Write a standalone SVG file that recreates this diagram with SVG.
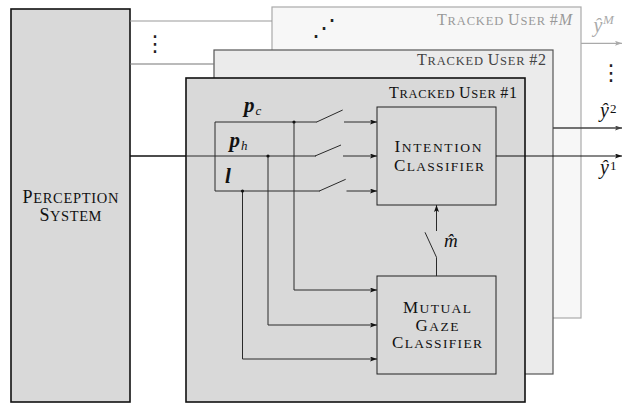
<svg xmlns="http://www.w3.org/2000/svg" width="627" height="405" viewBox="0 0 627 405">
  <style>
    .sc { font-family: "Liberation Serif", "Times New Roman", serif; }
    .math { font-family: "Liberation Serif", "Times New Roman", serif; font-style: italic; }
    .bm { font-family: "Liberation Serif", "Times New Roman", serif; font-style: italic; font-weight: bold; }
    .dots { font-family: "DejaVu Sans", sans-serif; fill: #222; text-anchor: middle; }
    .wire { fill: none; stroke: #2a2a2a; stroke-width: 1; }
    .dot { fill: #111; }
  </style>
  <defs>
    <marker id="ah-k" viewBox="0 0 7 5" refX="7" refY="2.5" markerWidth="7" markerHeight="5" markerUnits="userSpaceOnUse" orient="auto">
      <path d="M0,0 L7,2.5 L0,5 L1.5,2.5 z" fill="#111"/>
    </marker>
    <marker id="ah-d" viewBox="0 0 7 5" refX="7" refY="2.5" markerWidth="7" markerHeight="5" markerUnits="userSpaceOnUse" orient="auto">
      <path d="M0,0 L7,2.5 L0,5 L1.5,2.5 z" fill="#444"/>
    </marker>
    <marker id="ah-l" viewBox="0 0 7 5" refX="7" refY="2.5" markerWidth="7" markerHeight="5" markerUnits="userSpaceOnUse" orient="auto">
      <path d="M0,0 L7,2.5 L0,5 L1.5,2.5 z" fill="#aaa"/>
    </marker>
  </defs>

  <!-- stacked per-user panels, back to front -->
  <g id="user-m">
    <rect x="272" y="7" width="309" height="311" fill="#f7f7f7" stroke="#aaa" stroke-width="1.2"/>
    <text class="sc" x="572" y="25" text-anchor="end" fill="#999" textLength="135" lengthAdjust="spacing"><tspan font-size="16">T</tspan><tspan font-size="12.5">RACKED </tspan><tspan font-size="16">U</tspan><tspan font-size="12.5">SER </tspan><tspan font-size="16">#</tspan><tspan font-size="16" font-style="italic">M</tspan></text>
    <text class="dots" x="324" y="36" font-size="24">⋰</text>
  </g>

  <g id="user-2">
    <rect x="214" y="50" width="339" height="324" fill="#ebebeb" stroke="#555" stroke-width="1.2"/>
    <text class="sc" x="546" y="65" text-anchor="end" fill="#444" textLength="129" lengthAdjust="spacing"><tspan font-size="16">T</tspan><tspan font-size="12.5">RACKED </tspan><tspan font-size="16">U</tspan><tspan font-size="12.5">SER </tspan><tspan font-size="16">#2</tspan></text>
  </g>

  <g id="user-1">
    <rect x="186" y="78" width="339" height="324" fill="#d9d9d9" stroke="#111" stroke-width="1.6"/>
    <text class="sc" x="517" y="98" text-anchor="end" fill="#111" textLength="128" lengthAdjust="spacing"><tspan font-size="16">T</tspan><tspan font-size="12.5">RACKED </tspan><tspan font-size="16">U</tspan><tspan font-size="12.5">SER </tspan><tspan font-size="16">#1</tspan></text>
  </g>

  <g id="perception">
    <rect x="11" y="9" width="119" height="393" fill="#d9d9d9" stroke="#111" stroke-width="1.6"/>
    <text class="sc" x="70.5" y="203" text-anchor="middle" fill="#111" textLength="96" lengthAdjust="spacing"><tspan font-size="18">P</tspan><tspan font-size="14.5">ERCEPTION</tspan></text>
    <text class="sc" x="70.5" y="221" text-anchor="middle" fill="#111" textLength="62" lengthAdjust="spacing"><tspan font-size="18">S</tspan><tspan font-size="14.5">YSTEM</tspan></text>
  </g>

  <g id="intention-classifier">
    <rect x="377" y="107" width="119" height="98" fill="#d9d9d9" stroke="#222" stroke-width="1"/>
    <text class="sc" x="438" y="152" text-anchor="middle" fill="#111" textLength="87" lengthAdjust="spacing"><tspan font-size="17">I</tspan><tspan font-size="13.5">NTENTION</tspan></text>
    <text class="sc" x="439" y="171" text-anchor="middle" fill="#111" textLength="90" lengthAdjust="spacing"><tspan font-size="17">C</tspan><tspan font-size="13.5">LASSIFIER</tspan></text>
  </g>

  <g id="mutual-gaze-classifier">
    <rect x="377" y="276" width="119" height="98" fill="#d9d9d9" stroke="#222" stroke-width="1"/>
    <text class="sc" x="437" y="313" text-anchor="middle" fill="#111" textLength="68" lengthAdjust="spacing"><tspan font-size="17">M</tspan><tspan font-size="13.5">UTUAL</tspan></text>
    <text class="sc" x="437" y="331" text-anchor="middle" fill="#111" textLength="43" lengthAdjust="spacing"><tspan font-size="17">G</tspan><tspan font-size="13.5">AZE</tspan></text>
    <text class="sc" x="437" y="348" text-anchor="middle" fill="#111" textLength="90" lengthAdjust="spacing"><tspan font-size="17">C</tspan><tspan font-size="13.5">LASSIFIER</tspan></text>
  </g>

  <g id="connectors">
    <!-- perception outputs to each tracked user -->
    <line x1="130" y1="21" x2="272" y2="21" stroke="#999" stroke-width="1.2"/>
    <line x1="130" y1="64" x2="214" y2="64" stroke="#777" stroke-width="1.2"/>
    <line x1="130" y1="156" x2="186" y2="156" stroke="#111" stroke-width="1.6"/>
    <text class="dots" x="155" y="51" font-size="22">⋮</text>

    <!-- feature split: p_c, p_h, l -->
    <polyline class="wire" points="317,122 215,122 215,191 320,191"/>
    <line class="wire" x1="186" y1="156" x2="316" y2="156"/>

    <!-- switches in front of the intention classifier -->
    <line class="wire" x1="316.7" y1="122" x2="342.7" y2="110"/>
    <line class="wire" x1="315" y1="156" x2="341" y2="145"/>
    <line class="wire" x1="319.3" y1="191" x2="345.7" y2="179.3"/>
    <line class="wire" x1="344" y1="122" x2="377" y2="122" marker-end="url(#ah-k)"/>
    <line class="wire" x1="343" y1="156" x2="377" y2="156" marker-end="url(#ah-k)"/>
    <line class="wire" x1="346.5" y1="191" x2="377" y2="191" marker-end="url(#ah-k)"/>

    <!-- branches into the mutual gaze classifier -->
    <polyline class="wire" points="294,122 294,290 377,290" marker-end="url(#ah-k)"/>
    <polyline class="wire" points="268,156 268,325 377,325" marker-end="url(#ah-k)"/>
    <polyline class="wire" points="242.5,191 242.5,359 377,359" marker-end="url(#ah-k)"/>
    <circle class="dot" cx="294" cy="122" r="1.6"/>
    <circle class="dot" cx="268" cy="156" r="1.6"/>
    <circle class="dot" cx="242.5" cy="191" r="1.6"/>

    <!-- gated mutual gaze estimate -->
    <polyline class="wire" points="436.5,276 436.5,257.3 425,232.3"/>
    <line class="wire" x1="436.5" y1="231" x2="436.5" y2="205" marker-end="url(#ah-k)"/>

    <!-- per-user outputs -->
    <line x1="581" y1="43.3" x2="622" y2="43.3" stroke="#aaa" stroke-width="1.2" marker-end="url(#ah-l)"/>
    <line x1="553" y1="128" x2="622" y2="128" stroke="#444" stroke-width="1.4" marker-end="url(#ah-d)"/>
    <line x1="496" y1="156" x2="622" y2="156" stroke="#111" stroke-width="1.2" marker-end="url(#ah-k)"/>
    <text class="dots" x="611" y="80" font-size="22">⋮</text>
  </g>

  <g id="labels">
    <text class="bm" x="244" y="112" font-size="21" fill="#111">p</text>
    <text class="math" x="255.5" y="115" font-size="13" fill="#111">c</text>
    <text class="bm" x="229.5" y="147" font-size="21" fill="#111">p</text>
    <text class="math" x="241" y="150" font-size="13" fill="#111">h</text>
    <text class="bm" x="225" y="183" font-size="21" fill="#111">l</text>

    <text class="math" x="444" y="246.5" font-size="19" fill="#111">m̂</text>

    <text class="math" x="593.5" y="32" font-size="20" fill="#aaa">ŷ</text>
    <text class="math" x="603" y="24" font-size="13" fill="#aaa">M</text>
    <text class="math" x="600" y="117" font-size="20" fill="#111">ŷ</text>
    <text x="610" y="113" font-family="Liberation Serif, serif" font-size="13" fill="#111">2</text>
    <text class="math" x="600" y="174" font-size="20" fill="#111">ŷ</text>
    <text x="610" y="170" font-family="Liberation Serif, serif" font-size="13" fill="#111">1</text>
  </g>
</svg>
